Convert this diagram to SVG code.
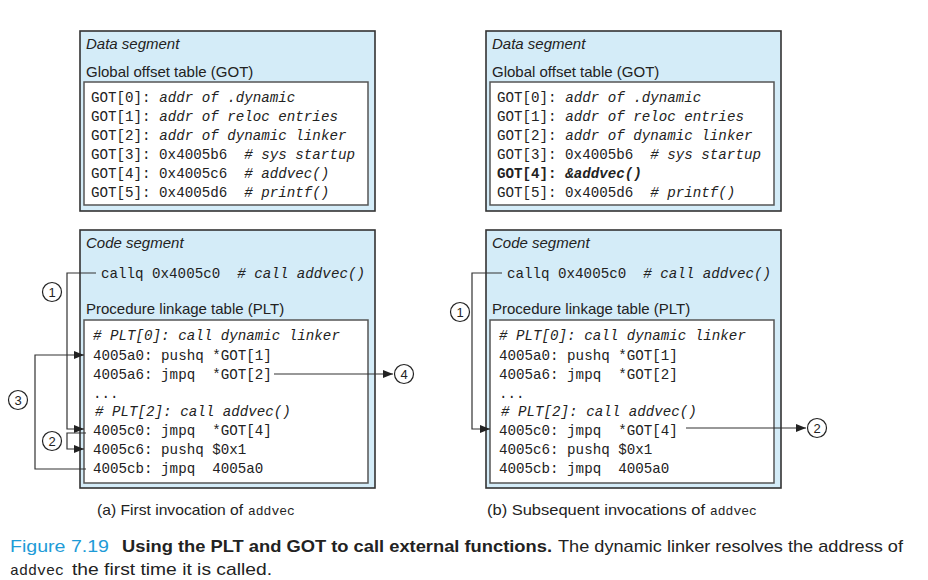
<svg xmlns="http://www.w3.org/2000/svg" width="928" height="580" viewBox="0 0 928 580">
<defs>
<marker id="ah" viewBox="0 0 10 8" refX="10" refY="4" markerWidth="10" markerHeight="8" markerUnits="userSpaceOnUse" orient="auto">
<path d="M0,0 L10,4 L0,8 z" fill="#222"/>
</marker>
</defs>
<style>
.seg{fill:#d4ecf8;stroke:#333;stroke-width:1.6}
.tbl{fill:#fff;stroke:#555;stroke-width:1.5}
.lbl{font-family:"Liberation Sans",Arial,sans-serif;font-size:15px;fill:#222}
.it{font-style:italic}
.mono{font-family:"Liberation Mono","DejaVu Sans Mono",monospace;font-size:14.2px;fill:#222}
.ci{font-style:italic}
.b{font-weight:bold}
.conn{fill:none;stroke:#333;stroke-width:1.2}
.circ{fill:#fff;stroke:#222;stroke-width:1.2}
.num{font-family:"Liberation Sans",Arial,sans-serif;font-size:13px;fill:#222;text-anchor:middle}
.cap{font-family:"Liberation Sans",Arial,sans-serif;font-size:15px;fill:#222}
.fig{font-family:"Liberation Sans",Arial,sans-serif;font-size:17px;fill:#222}
</style>

<!-- Left: (a) -->
<g id="dataA">
<rect class="seg" x="80" y="31" width="295" height="180"/>
<text class="lbl it" x="86" y="49">Data segment</text>
<text class="lbl" x="86" y="77">Global offset table (GOT)</text>
<rect class="tbl" x="84" y="82" width="284" height="123"/>
<text class="mono" x="91" y="102" xml:space="preserve">GOT[0]: <tspan class="ci">addr of .dynamic</tspan></text>
<text class="mono" x="91" y="121" xml:space="preserve">GOT[1]: <tspan class="ci">addr of reloc entries</tspan></text>
<text class="mono" x="91" y="140" xml:space="preserve">GOT[2]: <tspan class="ci">addr of dynamic linker</tspan></text>
<text class="mono" x="91" y="159" xml:space="preserve">GOT[3]: 0x4005b6  <tspan class="ci"># sys startup</tspan></text>
<text class="mono" x="91" y="178" xml:space="preserve">GOT[4]: 0x4005c6  <tspan class="ci"># addvec()</tspan></text>
<text class="mono" x="91" y="197" xml:space="preserve">GOT[5]: 0x4005d6  <tspan class="ci"># printf()</tspan></text>
</g>

<g id="codeA">
<rect class="seg" x="80" y="230" width="295" height="258"/>
<text class="lbl it" x="86" y="248">Code segment</text>
<text class="mono" x="101" y="278" xml:space="preserve">callq 0x4005c0  <tspan class="ci"># call addvec()</tspan></text>
<text class="lbl" x="86" y="314">Procedure linkage table (PLT)</text>
<rect class="tbl" x="84" y="320" width="284" height="163"/>
<text class="mono ci" x="93" y="340"># PLT[0]: call dynamic linker</text>
<text class="mono" x="93" y="360" xml:space="preserve">4005a0: pushq *GOT[1]</text>
<text class="mono" x="93" y="379" xml:space="preserve">4005a6: jmpq  *GOT[2]</text>
<text class="mono" x="93" y="398">...</text>
<text class="mono ci" x="95" y="416"># PLT[2]: call addvec()</text>
<text class="mono" x="93" y="435" xml:space="preserve">4005c0: jmpq  *GOT[4]</text>
<text class="mono" x="93" y="454" xml:space="preserve">4005c6: pushq $0x1</text>
<text class="mono" x="93" y="473" xml:space="preserve">4005cb: jmpq  4005a0</text>
</g>

<!-- Right: (b) -->
<g id="dataB">
<rect class="seg" x="486" y="31" width="295" height="180"/>
<text class="lbl it" x="492" y="49">Data segment</text>
<text class="lbl" x="492" y="77">Global offset table (GOT)</text>
<rect class="tbl" x="490" y="82" width="284" height="123"/>
<text class="mono" x="497" y="102" xml:space="preserve">GOT[0]: <tspan class="ci">addr of .dynamic</tspan></text>
<text class="mono" x="497" y="121" xml:space="preserve">GOT[1]: <tspan class="ci">addr of reloc entries</tspan></text>
<text class="mono" x="497" y="140" xml:space="preserve">GOT[2]: <tspan class="ci">addr of dynamic linker</tspan></text>
<text class="mono" x="497" y="159" xml:space="preserve">GOT[3]: 0x4005b6  <tspan class="ci"># sys startup</tspan></text>
<text class="mono b" x="497" y="178" xml:space="preserve">GOT[4]: <tspan class="ci">&amp;addvec()</tspan></text>
<text class="mono" x="497" y="197" xml:space="preserve">GOT[5]: 0x4005d6  <tspan class="ci"># printf()</tspan></text>
</g>

<g id="codeB">
<rect class="seg" x="486" y="230" width="295" height="258"/>
<text class="lbl it" x="492" y="248">Code segment</text>
<text class="mono" x="507" y="278" xml:space="preserve">callq 0x4005c0  <tspan class="ci"># call addvec()</tspan></text>
<text class="lbl" x="492" y="314">Procedure linkage table (PLT)</text>
<rect class="tbl" x="490" y="320" width="284" height="163"/>
<text class="mono ci" x="499" y="340"># PLT[0]: call dynamic linker</text>
<text class="mono" x="499" y="360" xml:space="preserve">4005a0: pushq *GOT[1]</text>
<text class="mono" x="499" y="379" xml:space="preserve">4005a6: jmpq  *GOT[2]</text>
<text class="mono" x="499" y="398">...</text>
<text class="mono ci" x="501" y="416"># PLT[2]: call addvec()</text>
<text class="mono" x="499" y="435" xml:space="preserve">4005c0: jmpq  *GOT[4]</text>
<text class="mono" x="499" y="454" xml:space="preserve">4005c6: pushq $0x1</text>
<text class="mono" x="499" y="473" xml:space="preserve">4005cb: jmpq  4005a0</text>
</g>

<g id="connectors">
<path class="conn" d="M96,273 H67 V429 H84" marker-end="url(#ah)"/>
<path class="conn" d="M86,433 H67 V449 H84" marker-end="url(#ah)"/>
<path class="conn" d="M86,469 H35 V355 H84" marker-end="url(#ah)"/>
<path class="conn" d="M274,374 H393" marker-end="url(#ah)"/>
<path class="conn" d="M502,273 H472 V429 H490" marker-end="url(#ah)"/>
<path class="conn" d="M686,428 H806" marker-end="url(#ah)"/>
</g>

<g id="markers">
<circle class="circ" cx="52" cy="292" r="9.5"/><text class="num" x="52" y="297">1</text>
<circle class="circ" cx="52" cy="441" r="9.5"/><text class="num" x="52" y="446">2</text>
<circle class="circ" cx="18" cy="400" r="9.5"/><text class="num" x="18" y="405">3</text>
<circle class="circ" cx="404" cy="374" r="9.5"/><text class="num" x="404" y="379">4</text>
<circle class="circ" cx="460" cy="312" r="9.5"/><text class="num" x="460" y="317">1</text>
<circle class="circ" cx="817" cy="428" r="9.5"/><text class="num" x="817" y="433">2</text>
</g>

<g id="captions">
<text class="cap" x="97" y="515" textLength="146" lengthAdjust="spacingAndGlyphs">(a) First invocation of</text>
<text class="mono" x="248" y="515" style="font-size:13px">addvec</text>
<text class="cap" x="487" y="515" textLength="218" lengthAdjust="spacingAndGlyphs">(b) Subsequent invocations of</text>
<text class="mono" x="710" y="515" style="font-size:13px">addvec</text>
</g>

<g id="figcaption">
<text class="fig" x="10" y="552" fill="#1e9bd7" style="fill:#1e9bd7" textLength="99" lengthAdjust="spacingAndGlyphs">Figure 7.19</text>
<text class="fig b" x="122" y="552" textLength="430" lengthAdjust="spacingAndGlyphs">Using the PLT and GOT to call external functions.</text>
<text class="fig" x="558" y="552" textLength="345" lengthAdjust="spacingAndGlyphs">The dynamic linker resolves the address of</text>
<text class="mono" x="10" y="575" style="font-size:15px">addvec</text>
<text class="fig" x="72" y="575" textLength="200" lengthAdjust="spacingAndGlyphs">the first time it is called.</text>
</g>
</svg>
